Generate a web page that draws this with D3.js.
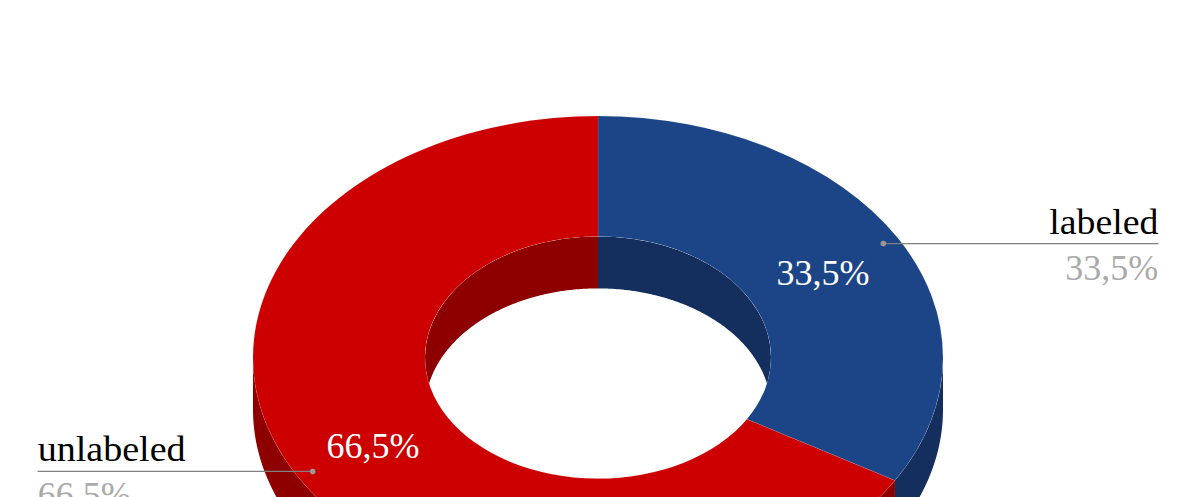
<!DOCTYPE html>
<html><head><meta charset="utf-8">
<style>html,body{margin:0;padding:0;background:#fff;overflow:hidden}svg{display:block}text{font-family:"Liberation Serif",serif}</style>
<script src="https://cdn.jsdelivr.net/npm/d3@7"></script></head>
<body><script>
const categories = ["labeled", "unlabeled"];
const shares = [33.5, 66.5];
const topColors = ["#1c4587", "#cc0000"];
const wallColors = ["#142f5e", "#8e0000"];

const W = 1196, H = 497, cx = 598, cy = 357.5, R = 345, r = 173, tilt = 0.7, depth = 52;
const fmt = v => v.toFixed(1).replace(".", ",") + "%";
const svg = d3.select("body").append("svg").attr("width", W).attr("height", H);
const pie = d3.pie().sort(null).value(d => d)(shares);
const px = (rad, a) => cx + rad * Math.sin(a);
const py = (rad, a, dz = 0) => cy - tilt * rad * Math.cos(a) + dz;
const samples = (a0, a1) => { const n = 200; return d3.range(n + 1).map(i => a0 + (a1 - a0) * i / n); };
const wall = rad => d3.area().x(a => px(rad, a)).y0(a => py(rad, a)).y1(a => py(rad, a, depth));

const defs = svg.append("defs");
defs.append("clipPath").attr("id", "hole").append("ellipse")
  .attr("cx", cx).attr("cy", cy).attr("rx", r).attr("ry", r * tilt);

// outer walls: front half only
const outer = svg.append("g");
pie.forEach((s, i) => {
  const a0 = Math.max(s.startAngle, Math.PI / 2), a1 = Math.min(s.endAngle, 3 * Math.PI / 2);
  if (a1 > a0) outer.append("path").attr("d", wall(R)(samples(a0, a1))).attr("fill", wallColors[i]);
});

// top faces
const arc = d3.arc().innerRadius(r).outerRadius(R);
svg.append("g").attr("transform", `translate(${cx},${cy}) scale(1,${tilt})`)
  .selectAll("path").data(pie).join("path")
  .attr("d", arc).attr("fill", (d, i) => topColors[i])
  .attr("stroke", "#fff").attr("stroke-opacity", 0.18).attr("stroke-width", 0.6);

// inner walls: back half only, seen through the hole
const inner = svg.append("g").attr("clip-path", "url(#hole)");
pie.forEach((s, i) => {
  [[-Math.PI / 2, Math.PI / 2], [3 * Math.PI / 2, 2 * Math.PI]].forEach(([lo, hi]) => {
    const a0 = Math.max(s.startAngle, lo), a1 = Math.min(s.endAngle, hi);
    if (a1 > a0) inner.append("path").attr("d", wall(r)(samples(a0, a1))).attr("fill", wallColors[i]);
  });
});

// inside labels
const midR = (R + r) / 2, anchorR = 328.5;
const mid = d => (d.startAngle + d.endAngle) / 2;
const fit = { big: 35 };
svg.append("g").selectAll("text").data(pie).join("text")
  .attr("x", d => px(midR, mid(d))).attr("y", (d, i) => py(midR, mid(d)) + (i === 0 ? 17 : 11))
  .attr("text-anchor", "middle").attr("fill", "#fff").attr("font-size", fit.big)
  .attr("textLength", 93).attr("lengthAdjust", "spacingAndGlyphs")
  .text(d => fmt(d.value));

// callouts
const leaderLen = 275;
pie.forEach((s, i) => {
  const x = px(anchorR, mid(s)), y = py(anchorR, mid(s));
  const right = x > cx;
  const end = right ? x + leaderLen : x - leaderLen;
  const g = svg.append("g");
  g.append("line").attr("x1", x).attr("x2", end).attr("y1", y).attr("y2", y)
    .attr("stroke", "#808080").attr("stroke-width", 1.2);
  g.append("circle").attr("cx", x).attr("cy", y).attr("r", 2.8).attr("fill", "#999");
  g.append("text").attr("x", end).attr("y", y - 10)
    .attr("text-anchor", right ? "end" : "start").attr("font-size", fit.big).attr("fill", "#000")
    .attr("textLength", right ? 109 : 148).attr("lengthAdjust", "spacingAndGlyphs")
    .text(categories[i]);
  g.append("text").attr("x", end).attr("y", y + 36)
    .attr("text-anchor", right ? "end" : "start").attr("font-size", fit.big).attr("fill", "#aaaaaa")
    .attr("textLength", 93).attr("lengthAdjust", "spacingAndGlyphs")
    .text(fmt(s.value));
});
</script></body></html>
